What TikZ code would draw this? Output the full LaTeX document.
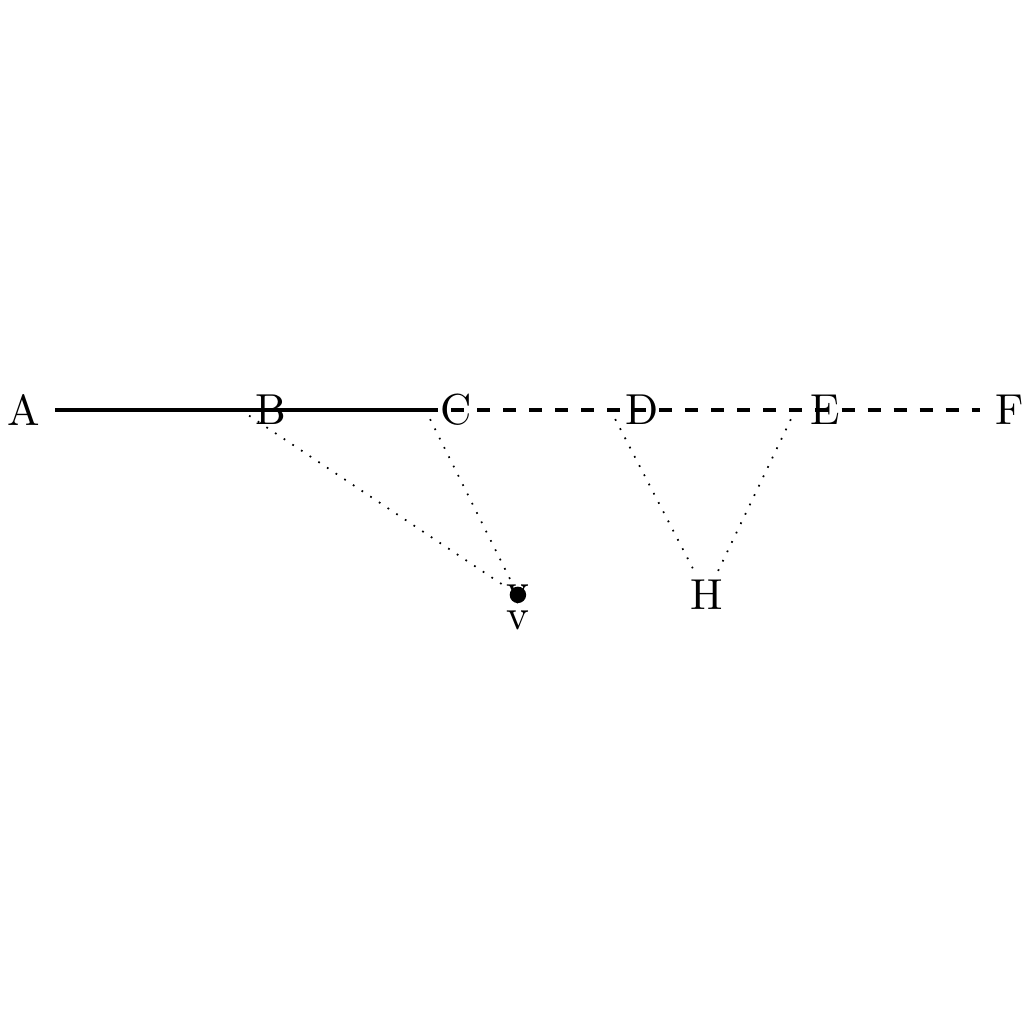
\documentclass[tikz,border=0pt]{standalone}
\begin{document}
\begin{tikzpicture}
\useasboundingbox (-0.45,-4.98) rectangle (7.853,3.324);
\coordinate[label=left:A] (A) at (0,0);
\foreach \n/\x in {B/1.5,C/3,D/4.5,E/6,F/7.5}
  \coordinate[label=right:\n] (\n) at (\x,0);
\node[inner sep=0pt] (v) at (3.75,-1.5) {v};
\fill (v.center) circle (1.9pt);
\node (vlabel) at (3.75,-1.71) {v};
\node[inner sep=1pt] (H) at (5.28,-1.5) {H};
\draw[thick] (A) -- (C);
\draw[thick,dashed] (C) -- (F);
\draw[dotted] (B) -- (v);
\draw[dotted] (C) -- (v);
\draw[dotted] (D) -- (H);
\draw[dotted] (E) -- (H);
\end{tikzpicture}
\end{document}
